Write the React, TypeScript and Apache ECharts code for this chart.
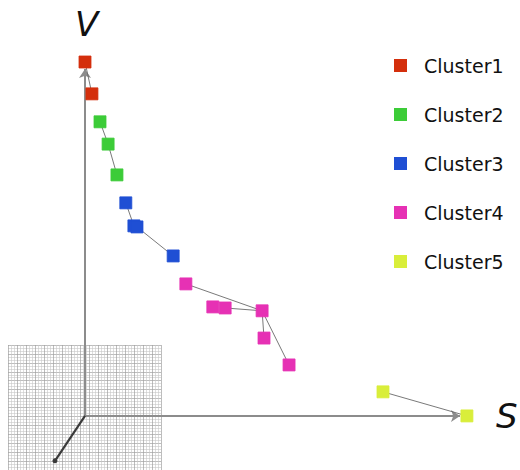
import React, { useEffect, useRef } from "react";
import * as echarts from "echarts";

// Points per cluster: [S, V]
const clusterNames = ["Cluster1", "Cluster2", "Cluster3", "Cluster4", "Cluster5"];
const cluster1: number[][] = [[0, 100], [1.8, 91.0]];
const cluster2: number[][] = [[3.9, 83.1], [6.0, 76.8], [8.3, 68.1]];
const cluster3: number[][] = [[10.6, 60.2], [12.7, 53.7], [13.5, 53.4], [22.9, 45.2]];
const cluster4: number[][] = [[26.2, 37.3], [33.2, 30.8], [36.4, 30.5], [46.0, 29.7], [46.5, 22.0], [53.0, 14.4]];
const cluster5: number[][] = [[77.4, 6.8], [99.2, 0]];
const clusterColors = ["#d42f0c", "#3ccc38", "#1f4fd4", "#e631b4", "#d9ee3a"];

// Tree edges: [clusterA, pointA, clusterB, pointB]
const edges: number[][] = [
  [0, 0, 0, 1],
  [1, 0, 1, 1],
  [1, 1, 1, 2],
  [2, 0, 2, 1],
  [2, 2, 2, 3],
  [3, 0, 3, 3],
  [3, 2, 3, 3],
  [3, 3, 3, 4],
  [3, 3, 3, 5],
  [4, 0, 4, 1],
];

// Axes: V up, S right, third axis toward the viewer
const vAxisEnd = [0, 98];
const sAxisEnd = [97.4, 0];
const depthAxisEnd = [-7.8, -12.7];

export default function App() {
  const ref = useRef<HTMLDivElement>(null);
  useEffect(() => {
    if (!ref.current) return;
    const chart = echarts.init(ref.current, undefined, { renderer: "svg" });
    const clusters = [cluster1, cluster2, cluster3, cluster4, cluster5];
    const edgeData = edges.map((e) => ({
      coords: [clusters[e[0]][e[1]], clusters[e[2]][e[3]]],
    }));
    const font = "DejaVu Sans, Verdana, sans-serif";
    chart.setOption({
      animation: false,
      grid: [
        { left: 8, right: 50, top: 62, bottom: 1 },
        { left: 8, top: 345, width: 153, height: 125 },
      ],
      xAxis: [
        { gridIndex: 0, type: "value", min: -20, max: 100, show: false },
        {
          gridIndex: 1, type: "value", min: 0, max: 51, interval: 3,
          axisLine: { show: false }, axisTick: { show: false }, axisLabel: { show: false },
          splitLine: { show: true, lineStyle: { color: "#a0a0a0", width: 0.7 } },
          minorTick: { show: false, splitNumber: 3 },
          minorSplitLine: { show: true, lineStyle: { color: "#c8c8c8", width: 0.6 } },
        },
      ],
      yAxis: [
        { gridIndex: 0, type: "value", min: -15, max: 100, show: false },
        {
          gridIndex: 1, type: "value", min: 0, max: 42, interval: 3,
          axisLine: { show: false }, axisTick: { show: false }, axisLabel: { show: false },
          splitLine: { show: true, lineStyle: { color: "#a0a0a0", width: 0.7 } },
          minorTick: { show: false, splitNumber: 3 },
          minorSplitLine: { show: true, lineStyle: { color: "#c8c8c8", width: 0.6 } },
        },
      ],
      legend: {
        orient: "vertical",
        left: 389,
        top: 51,
        itemWidth: 11,
        itemHeight: 11,
        itemGap: 30,
        icon: "rect",
        data: clusterNames,
        textStyle: { fontFamily: font, fontSize: 19, color: "#111", padding: [0, 0, 0, 13] },
      },
      graphic: [
        { type: "text", left: 75, top: 7, style: { text: "V", font: `italic 34px ${font}`, fill: "#111" } },
        { type: "text", left: 496, top: 399, style: { text: "S", font: `italic 34px ${font}`, fill: "#111" } },
      ],
      series: [
        {
          type: "lines",
          coordinateSystem: "cartesian2d",
          xAxisIndex: 0,
          yAxisIndex: 0,
          z: 1,
          symbol: ["none", "arrow"],
          symbolSize: [7, 9],
          lineStyle: { color: "#8c8c8c", width: 2, opacity: 1 },
          data: [
            { coords: [[0, 0], vAxisEnd] },
            { coords: [[0, 0], sAxisEnd] },
          ],
        },
        {
          type: "lines",
          coordinateSystem: "cartesian2d",
          xAxisIndex: 0,
          yAxisIndex: 0,
          z: 1,
          symbol: ["none", "circle"],
          symbolSize: 5,
          lineStyle: { color: "#3a3a3a", width: 2.2, opacity: 1 },
          data: [{ coords: [[0, 0], depthAxisEnd] }],
        },
        {
          type: "lines",
          coordinateSystem: "cartesian2d",
          xAxisIndex: 0,
          yAxisIndex: 0,
          z: 2,
          lineStyle: { color: "#6a6a6a", width: 1, opacity: 0.9 },
          data: edgeData,
        },
        ...clusters.map((pts, i) => ({
          type: "scatter",
          name: clusterNames[i],
          xAxisIndex: 0,
          yAxisIndex: 0,
          z: 3,
          symbol: "rect",
          symbolSize: 12,
          itemStyle: { color: clusterColors[i], borderColor: clusterColors[i], borderWidth: 0.8, opacity: 1 },
          data: pts,
        })),
      ],
    });
    return () => chart.dispose();
  }, []);
  return (
    <div
      ref={ref}
      style={{ position: "fixed", left: 0, top: 0, width: 520, height: 470, background: "#fff" }}
    />
  );
}
